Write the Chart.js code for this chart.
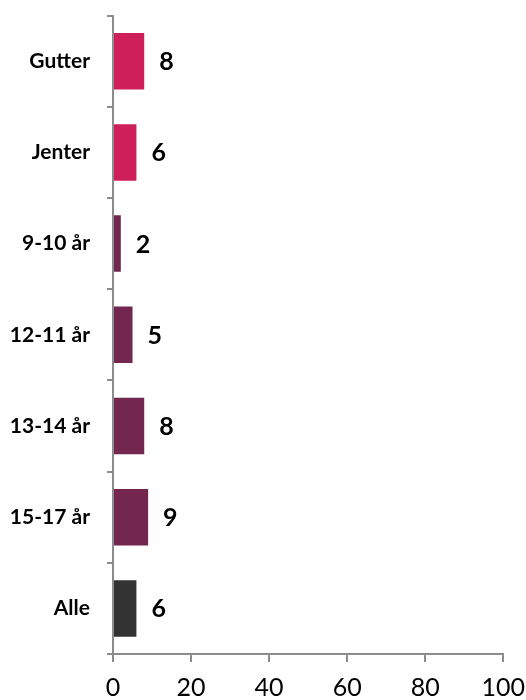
<!DOCTYPE html>
<html>
<head>
<meta charset="utf-8">
<script src="https://cdn.jsdelivr.net/npm/chart.js@4"></script>
<style>
  html, body { margin: 0; padding: 0; background: #fff; overflow: hidden; }
  #wrap { width: 526px; height: 700px; overflow: hidden; }
  #barChart { display: block; margin-top: -14px; }
</style>
</head>
<body>
<div id="wrap"><canvas id="barChart" width="536" height="714"></canvas></div>
<script>
// Categories and values
const categories = ['Gutter', 'Jenter', '9-10 år', '12-11 år', '13-14 år', '15-17 år', 'Alle'];
const values = [8, 6, 2, 5, 8, 9, 6];
const barColors = ['#cf1f5a', '#cf1f5a', '#722650', '#722650', '#722650', '#722650', '#333333'];
const xTicks = [0, 20, 40, 60, 80, 100];

const fontFamily = 'Lato, Calibri, sans-serif';

// Draw the value next to the end of each bar
const valueLabels = {
    id: 'valueLabels',
    afterDatasetsDraw(chart) {
        const ctx = chart.ctx;
        const meta = chart.getDatasetMeta(0);
        ctx.save();
        ctx.font = 'bold 25px ' + fontFamily;
        ctx.fillStyle = '#000';
        ctx.textAlign = 'left';
        ctx.textBaseline = 'middle';
        meta.data.forEach((bar, i) => {
            ctx.fillText(String(values[i]), bar.x + 15, bar.y + 1);
        });
        ctx.restore();
    }
};

const barChart = new Chart(document.getElementById('barChart'), {
    type: 'bar',
    data: {
        labels: categories,
        datasets: [{
            data: values,
            backgroundColor: barColors,
            borderWidth: 0,
            barPercentage: 0.62,
            categoryPercentage: 1
        }]
    },
    options: {
        indexAxis: 'y',
        responsive: false,
        animation: false,
        layout: { padding: 0 },
        plugins: {
            legend: { display: false },
            tooltip: { enabled: false }
        },
        scales: {
            x: {
                min: 0,
                max: 100,
                afterBuildTicks: (axis) => { axis.ticks = xTicks.map(v => ({ value: v })); },
                afterFit: (axis) => { axis.height = 46; },
                border: { display: true, color: '#8c8c8c', width: 2 },
                grid: { drawOnChartArea: false, drawTicks: true, tickLength: 8, color: '#8c8c8c', lineWidth: 2 },
                ticks: { color: '#000', font: { family: fontFamily, size: 25 }, padding: 11, maxRotation: 0 }
            },
            y: {
                afterFit: (axis) => { axis.width = 113; },
                border: { display: true, color: '#8c8c8c', width: 2 },
                grid: { drawOnChartArea: false, drawTicks: true, tickLength: 6, color: '#8c8c8c', lineWidth: 2, offset: true },
                ticks: { color: '#000', font: { family: fontFamily, size: 21, weight: 'bold' }, padding: 17 }
            }
        }
    },
    plugins: [valueLabels]
});
</script>
</body>
</html>
